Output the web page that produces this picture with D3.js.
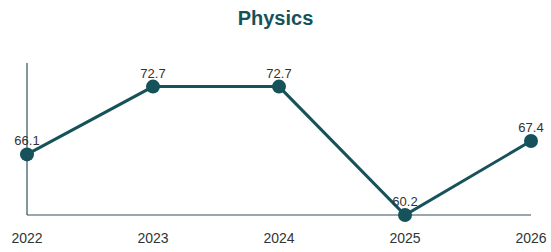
<!DOCTYPE html>
<html><head><meta charset="utf-8">
<script src="https://cdn.jsdelivr.net/npm/d3@7"></script>
<style>body{margin:0;background:#fff;font-family:"Liberation Sans",Arial,sans-serif;}</style>
</head><body><svg id="c" width="551" height="252"></svg>
<script>
const years = ["2022","2023","2024","2025","2026"];
const values = [66.1, 72.7, 72.7, 60.2, 67.4];
const title = "Physics";

const svg = d3.select("#c");
const color = "#16525a";
const x = d3.scalePoint().domain(years).range([27, 531]);
const y = d3.scaleLinear().domain([60.2, 75]).range([215, 63]);

svg.append("text").attr("x", 275.5).attr("y", 25).attr("text-anchor","middle")
  .attr("font-size", 20).attr("font-weight","bold").attr("fill", color).text(title);

svg.append("line").attr("x1", 27).attr("x2", 27).attr("y1", y(75)).attr("y2", y(60.2))
  .attr("stroke", "#2d5257").attr("stroke-width", 1.2);
svg.append("line").attr("x1", 27).attr("x2", 531).attr("y1", y(60.2)).attr("y2", y(60.2))
  .attr("stroke", "#2d5257").attr("stroke-width", 1.2);

svg.selectAll(".xl").data(years).enter().append("text")
  .attr("x", d => x(d)).attr("y", 243).attr("text-anchor","middle")
  .attr("font-size", 14).attr("fill", "#333").text(d => d);

const data = years.map((d,i) => ({year:d, value:values[i]}));
svg.append("path").datum(data)
  .attr("d", d3.line().x(d => x(d.year)).y(d => y(d.value)))
  .attr("fill","none").attr("stroke", color).attr("stroke-width", 3);

svg.selectAll(".pt").data(data).enter().append("circle")
  .attr("cx", d => x(d.year)).attr("cy", d => y(d.value)).attr("r", 7).attr("fill", color);

svg.selectAll(".vl").data(data).enter().append("text")
  .attr("x", d => x(d.year)).attr("y", d => y(d.value) - 9).attr("text-anchor","middle")
  .attr("font-size", 13).attr("fill", "#333").text(d => d.value.toFixed(1));
</script></body></html>
